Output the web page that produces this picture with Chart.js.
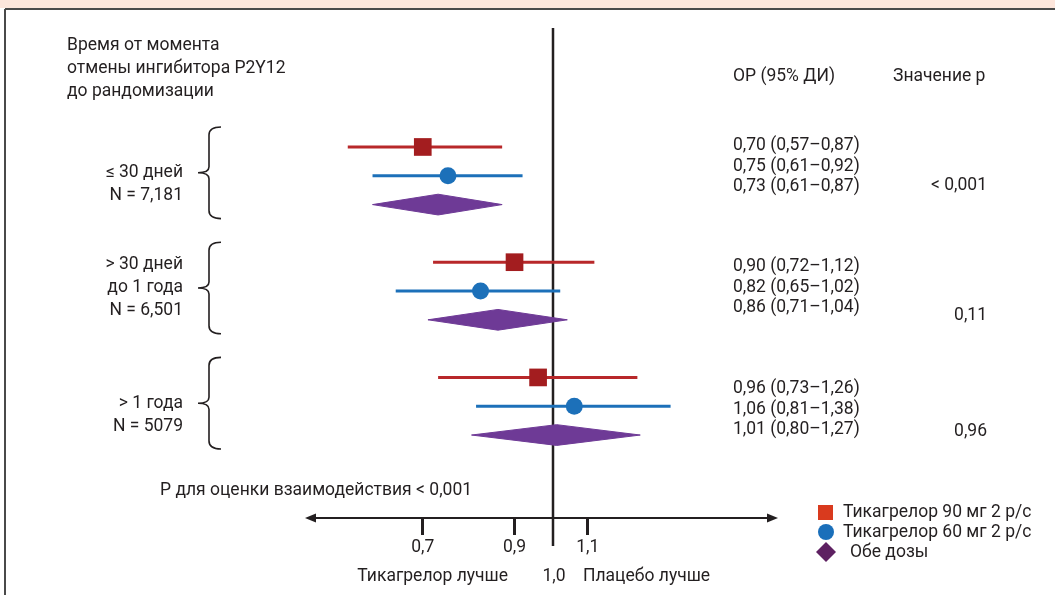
<!DOCTYPE html>
<html lang="ru"><head><meta charset="UTF-8"><title>Forest plot</title>
<style>
  html,body{margin:0;background:#fff;}
  .wrap{position:relative;width:1055px;height:595px;}
</style>
<script src="https://cdn.jsdelivr.net/npm/chart.js"></script>
</head><body>
<div class="wrap"><canvas id="c"></canvas></div>
<script>
// data
const groupLabels = [
  ['≤ 30 дней', 'N = 7,181'],
  ['> 30 дней', 'до 1 года', 'N = 6,501'],
  ['> 1 года', 'N = 5079']
];
const hr90 = [0.70, 0.90, 0.96];
const lo90 = [0.57, 0.72, 0.73];
const hi90 = [0.87, 1.12, 1.26];
const hr60 = [0.75, 0.82, 1.06];
const lo60 = [0.61, 0.65, 0.81];
const hi60 = [0.92, 1.02, 1.38];
const hrBoth = [0.73, 0.86, 1.01];
const loBoth = [0.61, 0.71, 0.80];
const hiBoth = [0.87, 1.04, 1.27];
const pValues = ['< 0,001', '0,11', '0,96'];
const xTicks = [0.7, 0.9, 1.1];
const seriesNames = ['Тикагрелор 90 мг 2 р/с', 'Тикагрелор 60 мг 2 р/с', 'Обе дозы'];

const FONT = '17.5px Roboto';
const INK = '#231f20';
const RED = '#a31d1f', RED_LINE = '#b8282a';
const BLUE = '#1c70b9';
const PURPLE = '#6e3a96';
const DIAMOND_H = 0.36;   // half height of the pooled diamond, in row units

const row = (g, k) => g * 4 + k;
const fmt = v => v.toFixed(2).replace('.', ',');

const datasets = [];
// markers on top
datasets.push({
  type: 'scatter', label: seriesNames[0], order: 0,
  data: hr90.map((v, g) => ({ x: v, y: row(g, 0) })),
  pointStyle: 'rect', pointRadius: 12.5, backgroundColor: RED, borderWidth: 0
});
datasets.push({
  type: 'scatter', label: seriesNames[1], order: 0,
  data: hr60.map((v, g) => ({ x: v, y: row(g, 1) })),
  pointStyle: 'circle', pointRadius: 8.5, backgroundColor: BLUE, borderWidth: 0
});
// pooled diamonds
hrBoth.forEach((v, g) => {
  const r = row(g, 2);
  datasets.push({
    type: 'line', label: seriesNames[2], order: 1,
    data: [
      { x: loBoth[g], y: r }, { x: v, y: r - DIAMOND_H },
      { x: hiBoth[g], y: r }, { x: v, y: r + DIAMOND_H }, { x: loBoth[g], y: r }
    ],
    fill: 'shape', backgroundColor: PURPLE, borderColor: PURPLE, borderWidth: 1,
    pointRadius: 0, tension: 0
  });
});
// confidence intervals
[[lo90, hi90, 0, RED_LINE], [lo60, hi60, 1, BLUE]].forEach(([lo, hi, k, col]) => {
  lo.forEach((l, g) => {
    datasets.push({
      type: 'line', label: 'ci', order: 2,
      data: [{ x: l, y: row(g, k) }, { x: hi[g], y: row(g, k) }],
      borderColor: col, borderWidth: 3, pointRadius: 0, fill: false
    });
  });
});

function txt(ctx, s, x, y, align) {
  ctx.textAlign = align || 'left';
  ctx.fillText(s, x, y);
}

const decor = {
  id: 'decor',
  beforeDatasetsDraw(chart) {
    const ctx = chart.ctx, xs = chart.scales.x;
    const ca = chart.chartArea;
    ctx.save();
    // frame
    ctx.fillStyle = '#fde6dc';
    ctx.fillRect(0, 0, 1055, 8);
    ctx.strokeStyle = '#4a4a4a';
    ctx.lineWidth = 2;
    ctx.beginPath();
    ctx.moveTo(5, 9); ctx.lineTo(1055, 9);
    ctx.moveTo(5, 9); ctx.lineTo(5, 595);
    ctx.stroke();
    // line of no effect
    const x1 = xs.getPixelForValue(1);
    ctx.strokeStyle = INK;
    ctx.lineWidth = 2.5;
    ctx.beginPath();
    ctx.moveTo(x1, ca.top); ctx.lineTo(x1, ca.bottom + 28);
    ctx.stroke();
    // axis with arrows
    const ay = ca.bottom;
    ctx.lineWidth = 2;
    ctx.beginPath();
    ctx.moveTo(ca.left + 6, ay); ctx.lineTo(ca.right - 6, ay);
    ctx.stroke();
    ctx.fillStyle = INK;
    ctx.beginPath();
    ctx.moveTo(ca.left, ay); ctx.lineTo(ca.left + 11, ay - 4.5); ctx.lineTo(ca.left + 11, ay + 4.5);
    ctx.closePath(); ctx.fill();
    ctx.beginPath();
    ctx.moveTo(ca.right, ay); ctx.lineTo(ca.right - 11, ay - 4.5); ctx.lineTo(ca.right - 11, ay + 4.5);
    ctx.closePath(); ctx.fill();
    ctx.restore();
  },
  afterDraw(chart) {
    const ctx = chart.ctx, xs = chart.scales.x, ys = chart.scales.y;
    ctx.save();
    ctx.font = FONT;
    ctx.fillStyle = INK;
    ctx.textBaseline = 'middle';

    // column headers
    ['Время от момента', 'отмены ингибитора P2Y12', 'до рандомизации']
      .forEach((s, i) => txt(ctx, s, 67, 46 + i * 23));
    txt(ctx, 'ОР (95% ДИ)', 733, 77);
    txt(ctx, 'Значение p', 893, 77);

    // braces + group labels
    const textTop = [146, 267, 389];
    const pY = [186, 316, 432];
    groupLabels.forEach((lines, g) => {
      const top = ys.getPixelForValue(row(g, 0)) - 20;
      const bot = ys.getPixelForValue(row(g, 2)) + 14;
      const tip = (top + bot) / 2;
      ctx.strokeStyle = INK;
      ctx.lineWidth = 1.6;
      ctx.beginPath();
      ctx.moveTo(221, top);
      ctx.quadraticCurveTo(209, top, 209, top + 8);
      ctx.lineTo(209, tip - 6);
      ctx.quadraticCurveTo(209, tip, 198, tip);
      ctx.quadraticCurveTo(209, tip, 209, tip + 6);
      ctx.lineTo(209, bot - 8);
      ctx.quadraticCurveTo(209, bot, 221, bot);
      ctx.stroke();

      const first = tip - Math.floor((lines.length - 1) / 2) * 23;
      lines.forEach((s, i) => txt(ctx, s, 183, first + i * 23, 'right'));

      // estimates column
      const rowsTxt = [
        [hr90[g], lo90[g], hi90[g]],
        [hr60[g], lo60[g], hi60[g]],
        [hrBoth[g], loBoth[g], hiBoth[g]]
      ];
      rowsTxt.forEach(([h, l, u], i) =>
        txt(ctx, fmt(h) + ' (' + fmt(l) + '–' + fmt(u) + ')', 733, textTop[g] + i * 20.5));
      txt(ctx, pValues[g], 987, pY[g], 'right');
    });

    // bottom notes
    txt(ctx, 'Р для оценки взаимодействия < 0,001', 160, 491);
    const x1 = xs.getPixelForValue(1);
    txt(ctx, 'Тикагрелор лучше', 508, 577, 'right');
    txt(ctx, '1,0', x1 + 1, 577, 'center');
    txt(ctx, 'Плацебо лучше', 583, 577);

    // legend
    ctx.fillStyle = '#d93a1e';
    ctx.fillRect(818, 505, 15, 15);
    ctx.fillStyle = '#1a6fba';
    ctx.beginPath(); ctx.arc(826, 532, 8, 0, Math.PI * 2); ctx.fill();
    ctx.fillStyle = '#5e2162';
    ctx.beginPath();
    ctx.moveTo(826, 542); ctx.lineTo(836, 552); ctx.lineTo(826, 562); ctx.lineTo(816, 552);
    ctx.closePath(); ctx.fill();
    ctx.fillStyle = INK;
    txt(ctx, seriesNames[0], 843, 513);
    txt(ctx, seriesNames[1], 843, 533);
    txt(ctx, seriesNames[2], 850, 553);
    ctx.restore();
  }
};

new Chart(document.getElementById('c'), {
  type: 'scatter',
  data: { datasets },
  plugins: [decor],
  options: {
    responsive: true,
    maintainAspectRatio: false,
    animation: false,
    layout: { padding: { left: 305, right: 277, top: 28, bottom: 37 } },
    plugins: { legend: { display: false }, tooltip: { enabled: false } },
    scales: {
      x: {
        type: 'logarithmic',
        min: 0.507, max: 1.852,
        afterBuildTicks: s => { s.ticks = xTicks.map(v => ({ value: v })); },
        afterFit: s => { s.height = 40; },
        ticks: {
          callback: v => String(v).replace('.', ','),
          font: { family: 'Roboto', size: 17.5 }, color: INK,
          padding: 2, maxRotation: 0, autoSkip: false
        },
        grid: { drawOnChartArea: false, drawTicks: true, tickLength: 17, tickWidth: 3, tickColor: INK },
        border: { display: false }
      },
      y: { type: 'linear', min: -4.13, max: 12.88, reverse: true, display: false }
    }
  }
});
</script>
</body></html>
